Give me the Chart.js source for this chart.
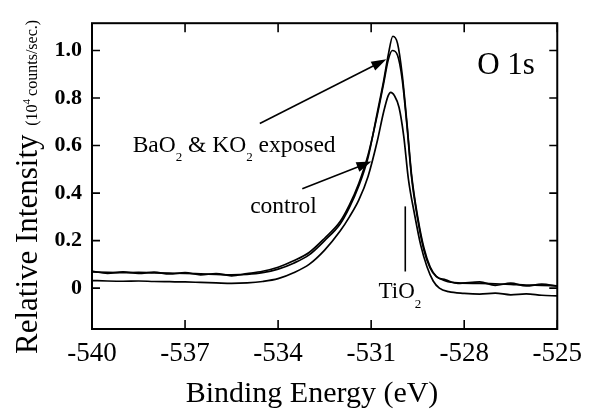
<!DOCTYPE html>
<html>
<head>
<meta charset="utf-8">
<script src="https://cdn.jsdelivr.net/npm/chart.js@4/dist/chart.umd.min.js"></script>
<style>
  html, body { margin: 0; padding: 0; background: #fff; }
  #wrap { width: 591px; height: 409px; position: relative; }
</style>
</head>
<body>
<div id="wrap"><canvas id="xps"></canvas></div>
<script>
const SERIF = "'Liberation Serif', 'DejaVu Serif', serif";

const X_TICKS = [-540, -537, -534, -531, -528, -525];
const Y_TICKS = [0, 0.2, 0.4, 0.6, 0.8, 1.0];

// binding energy (eV) and relative intensity for each trace
const upperE = [-540, -539.5, -539, -538.5, -538, -537.5, -537, -536.5, -536, -535.5, -535, -534.5, -534, -533.5, -533, -532.5, -532, -531.7, -531.4, -531.1, -530.8, -530.6, -530.45, -530.3, -530.15, -530.0, -529.85, -529.7, -529.5, -529.3, -529.1, -528.9, -528.6, -528.2, -527.5, -527, -526.5, -526, -525.5, -525];
const upperI = [0.068, 0.066, 0.065, 0.066, 0.064, 0.063, 0.062, 0.060, 0.058, 0.056, 0.058, 0.065, 0.080, 0.105, 0.14, 0.20, 0.27, 0.34, 0.43, 0.55, 0.74, 0.87, 0.98, 1.06, 1.03, 0.90, 0.70, 0.48, 0.30, 0.17, 0.09, 0.05, 0.03, 0.022, 0.02, 0.018, 0.016, 0.013, 0.012, 0.01];

const middleE = [-540, -539.5, -539, -538.5, -538, -537.5, -537, -536.5, -536, -535.5, -535, -534.5, -534, -533.5, -533, -532.5, -532, -531.7, -531.4, -531.1, -530.8, -530.6, -530.45, -530.32, -530.15, -530.0, -529.85, -529.7, -529.5, -529.3, -529.1, -528.9, -528.6, -528.2, -527.5, -527, -526.5, -526, -525.5, -525];
const middleI = [0.072, 0.062, 0.068, 0.062, 0.067, 0.060, 0.065, 0.056, 0.061, 0.052, 0.061, 0.071, 0.088, 0.115, 0.15, 0.21, 0.28, 0.35, 0.44, 0.56, 0.73, 0.86, 0.96, 1.0, 0.98, 0.88, 0.69, 0.47, 0.29, 0.16, 0.085, 0.048, 0.035, 0.02, 0.026, 0.012, 0.021, 0.009, 0.017, 0.008];

const lowerE = [-540, -539.5, -539, -538.5, -538, -537.5, -537, -536.5, -536, -535.5, -535, -534.5, -534, -533.5, -533, -532.5, -532, -531.7, -531.4, -531.1, -530.8, -530.6, -530.45, -530.37, -530.25, -530.1, -529.95, -529.8, -529.6, -529.4, -529.2, -529.0, -528.8, -528.5, -528, -527.5, -527, -526.5, -526, -525.5, -525];
const lowerI = [0.032, 0.030, 0.029, 0.030, 0.028, 0.027, 0.026, 0.024, 0.022, 0.020, 0.022, 0.028, 0.040, 0.065, 0.10, 0.16, 0.24, 0.30, 0.37, 0.47, 0.62, 0.74, 0.81, 0.824, 0.81, 0.76, 0.64, 0.46, 0.31, 0.18, 0.09, 0.03, 0.0, -0.015, -0.022, -0.025, -0.021, -0.028, -0.024, -0.03, -0.033];

const pts = (xs, ys) => xs.map((x, i) => ({ x: x, y: ys[i] }));

// annotation anchors in data units
const exposedArrow = { from: [-534.59, 0.693], to: [-530.51, 0.963] };
const controlArrow = { from: [-533.22, 0.418], to: [-530.99, 0.533] };
const tioLine = { x: -529.90, y1: 0.344, y2: 0.07 };

function arrow(ctx, x1, y1, x2, y2) {
  const a = Math.atan2(y2 - y1, x2 - x1);
  const len = 15, half = 5;
  ctx.beginPath();
  ctx.moveTo(x1, y1);
  ctx.lineTo(x2 - Math.cos(a) * len * 0.8, y2 - Math.sin(a) * len * 0.8);
  ctx.stroke();
  ctx.beginPath();
  ctx.moveTo(x2, y2);
  ctx.lineTo(x2 - Math.cos(a) * len - Math.sin(a) * half, y2 - Math.sin(a) * len + Math.cos(a) * half);
  ctx.lineTo(x2 - Math.cos(a) * len + Math.sin(a) * half, y2 - Math.sin(a) * len - Math.cos(a) * half);
  ctx.closePath();
  ctx.fill();
}

// text with subscripts: parts = [[text, isSub], ...]
function richText(ctx, parts, x, y, size, subSize, subDrop) {
  let cx = x;
  parts.forEach(([t, sub]) => {
    ctx.font = (sub ? subSize : size) + "px " + SERIF;
    ctx.fillText(t, cx, sub ? y + subDrop : y);
    cx += ctx.measureText(t).width;
  });
}

const decor = {
  id: "decor",
  afterDraw(chart) {
    const { ctx, chartArea: a, scales: { x, y } } = chart;
    ctx.save();
    ctx.strokeStyle = "#000";
    ctx.fillStyle = "#000";

    // frame
    ctx.lineWidth = 2;
    ctx.strokeRect(a.left, a.top, a.right - a.left, a.bottom - a.top);

    // inward ticks on all sides
    ctx.lineWidth = 1.6;
    ctx.beginPath();
    X_TICKS.forEach(v => {
      const px = x.getPixelForValue(v);
      ctx.moveTo(px, a.bottom); ctx.lineTo(px, a.bottom - 9);
      ctx.moveTo(px, a.top); ctx.lineTo(px, a.top + 9);
    });
    Y_TICKS.forEach(v => {
      const py = y.getPixelForValue(v);
      ctx.moveTo(a.left, py); ctx.lineTo(a.left + 8, py);
      ctx.moveTo(a.right, py); ctx.lineTo(a.right - 8, py);
    });
    ctx.stroke();

    // arrows
    ctx.lineWidth = 1.6;
    [exposedArrow, controlArrow].forEach(ar => {
      arrow(ctx, x.getPixelForValue(ar.from[0]), y.getPixelForValue(ar.from[1]),
        x.getPixelForValue(ar.to[0]), y.getPixelForValue(ar.to[1]));
    });

    // TiO2 marker line
    ctx.beginPath();
    ctx.moveTo(x.getPixelForValue(tioLine.x), y.getPixelForValue(tioLine.y1));
    ctx.lineTo(x.getPixelForValue(tioLine.x), y.getPixelForValue(tioLine.y2));
    ctx.stroke();

    // labels
    ctx.textBaseline = "alphabetic";
    ctx.textAlign = "left";
    ctx.font = "31px " + SERIF;
    ctx.fillText("O 1s", x.getPixelForValue(-527.58), y.getPixelForValue(0.90));

    richText(ctx, [["BaO", 0], ["2", 1], [" & KO", 0], ["2", 1], [" exposed", 0]],
      x.getPixelForValue(-538.69), y.getPixelForValue(0.574), 23.5, 13, 9);
    ctx.font = "23.5px " + SERIF;
    ctx.fillText("control", x.getPixelForValue(-534.90), y.getPixelForValue(0.316));
    richText(ctx, [["TiO", 0], ["2", 1]],
      x.getPixelForValue(-530.76), y.getPixelForValue(-0.041), 23, 13, 10);

    // axis titles
    ctx.textAlign = "center";
    ctx.font = "30px " + SERIF;
    ctx.fillText("Binding Energy (eV)", 312, 402);

    ctx.translate(37, 354);
    ctx.rotate(-Math.PI / 2);
    ctx.textAlign = "left";
    ctx.font = "31px " + SERIF;
    const big = "Relative Intensity ";
    ctx.fillText(big, 0, 0);
    let cx = ctx.measureText(big).width + 1;
    ctx.font = "16px " + SERIF;
    ctx.fillText("(10", cx, 0);
    cx += ctx.measureText("(10").width;
    ctx.font = "11px " + SERIF;
    ctx.fillText("4", cx, -7);
    cx += ctx.measureText("4").width + 3;
    ctx.font = "16px " + SERIF;
    ctx.fillText("counts/sec.)", cx, 0);
    ctx.restore();
  }
};

const lineStyle = {
  borderColor: "#000",
  borderWidth: 1.7,
  pointRadius: 0,
  fill: false,
  cubicInterpolationMode: "monotone"
};

new Chart(document.getElementById("xps"), {
  type: "line",
  data: {
    datasets: [
      { label: "exposed (upper)", data: pts(upperE, upperI), ...lineStyle },
      { label: "exposed", data: pts(middleE, middleI), ...lineStyle },
      { label: "control", data: pts(lowerE, lowerI), ...lineStyle }
    ]
  },
  options: {
    responsive: true,
    maintainAspectRatio: false,
    animation: false,
    layout: { padding: { top: 15, right: 28, left: 0, bottom: 0 } },
    plugins: { legend: { display: false }, tooltip: { enabled: false } },
    scales: {
      x: {
        type: "linear",
        min: -540,
        max: -525,
        afterBuildTicks: s => { s.ticks = X_TICKS.map(v => ({ value: v })); },
        afterFit: s => { s.height = 80; },
        grid: { display: false, drawTicks: false },
        border: { display: false },
        ticks: {
          color: "#000",
          padding: 9,
          maxRotation: 0,
          font: { family: SERIF, size: 27 },
          callback: v => String(v)
        }
      },
      y: {
        min: -0.172,
        max: 1.115,
        afterBuildTicks: s => { s.ticks = Y_TICKS.map(v => ({ value: v })); },
        afterFit: s => { s.width = 92; },
        grid: { display: false, drawTicks: false },
        border: { display: false },
        ticks: {
          color: "#000",
          padding: 10,
          font: { family: SERIF, size: 22, weight: "bold" },
          callback: v => v === 0 ? "0" : v.toFixed(1)
        }
      }
    }
  },
  plugins: [decor]
});
</script>
</body>
</html>
